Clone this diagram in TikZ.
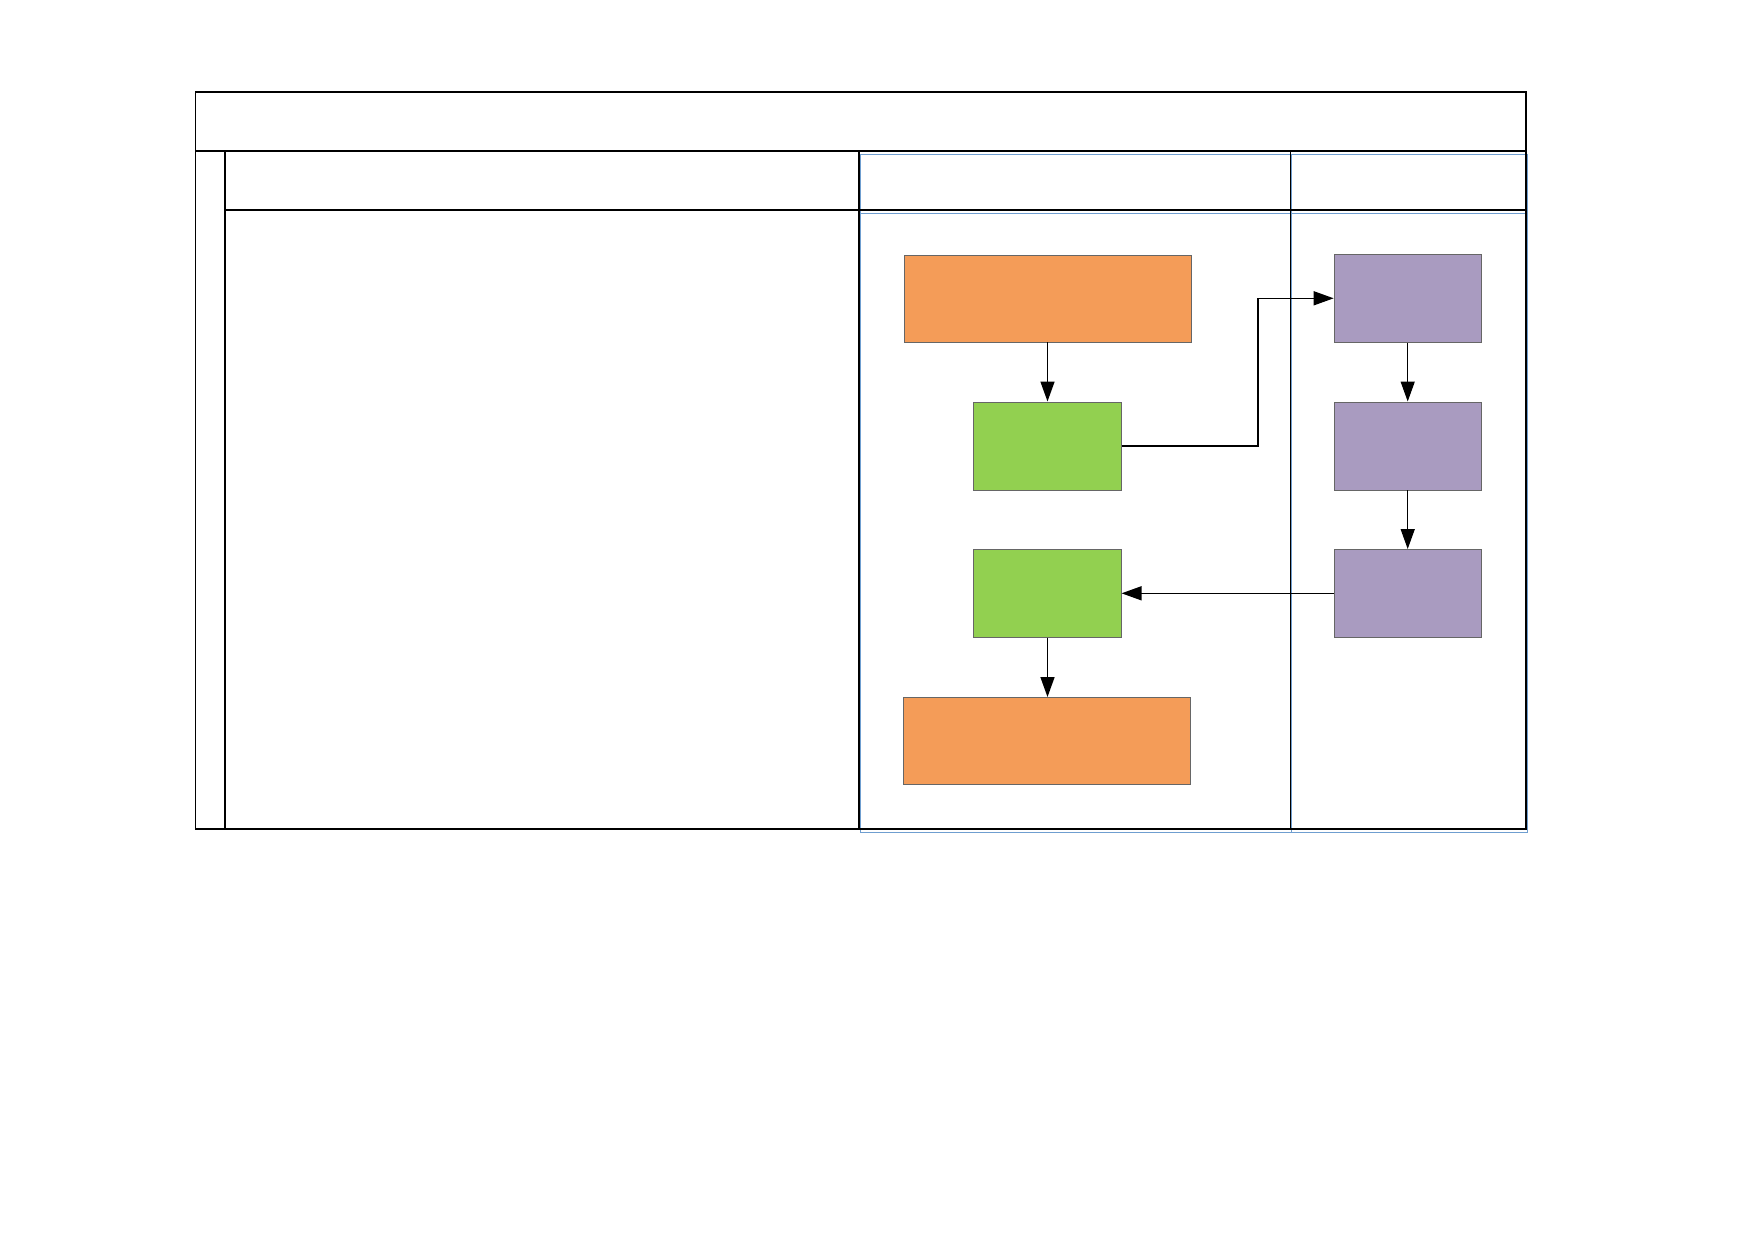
\documentclass[tikz,border=0pt]{standalone}
\usepackage{tikz}
\usetikzlibrary{arrows.meta,positioning}
\definecolor{boxorange}{HTML}{F49C58}
\definecolor{boxgreen}{HTML}{92D050}
\definecolor{boxpurple}{HTML}{A99BC0}
\definecolor{lanegrid}{HTML}{6F9ED0}
\tikzstyle{wide} = [rectangle, minimum width=287pt, minimum height=87pt, inner sep=0pt, draw=black!60, line width=0.6pt, fill=boxorange]
\tikzstyle{small} = [rectangle, minimum width=147.5pt, minimum height=88pt, inner sep=0pt, draw=black!60, line width=0.6pt]
\tikzstyle{arrow} = [line width=1.5pt,-{Triangle[length=20pt,width=14pt]}]
\tikzstyle{frame} = [line width=1.8pt, black]

\begin{document}
\begin{tikzpicture}[x=1pt, y=-1pt, node distance=147.5pt]
                    \useasboundingbox (0,0) rectangle (1752,1239);
                    % lanes
                    \draw [lanegrid, line width=1.2pt] (860.8,154.2) rectangle (1527.6,832.4);
                    \draw [lanegrid, line width=1.2pt] (860.8,213.4) -- (1527.6,213.4);
                    \draw [lanegrid, line width=1.2pt] (1291.6,154.2) -- (1291.6,832.4);
                    \draw [frame] (195.5,91.6) rectangle (1526.3,829);
                    \draw [frame] (195.5,150.8) -- (1526.3,150.8);
                    \draw [frame] (224.6,150.8) -- (224.6,829);
                    \draw [frame] (224.6,210) -- (1526.3,210);
                    \draw [frame] (859.2,150.8) -- (859.2,829);
                    \draw [frame] (1290.5,150.8) -- (1290.5,829);
                    % boxes
                    \node (start) [wide] at (1047.5,298.3) {};
                    \node (stepA) [small, fill=boxgreen, below of=start] {};
                    \node (stepB) [small, fill=boxgreen, below of=stepA] {};
                    \node (finish) [wide, below of=stepB, xshift=-1pt] {};
                    \node (check) [small, fill=boxpurple] at (1407.7,298.3) {};
                    \node (review) [small, fill=boxpurple, below of=check] {};
                    \node (reply) [small, fill=boxpurple, below of=review] {};
                    \draw [arrow] (start) -- (stepA);
                    \draw [arrow] (stepA.east) -- ++(136.3,0) |- (check.west);
                    \draw [arrow] (check) -- (review);
                    \draw [arrow] (review) -- (reply);
                    \draw [arrow] (reply.west) -- (stepB.east);
                    \draw [arrow] (stepB.south) -- (stepB.south |- finish.north);
                \end{tikzpicture}
\end{document}
